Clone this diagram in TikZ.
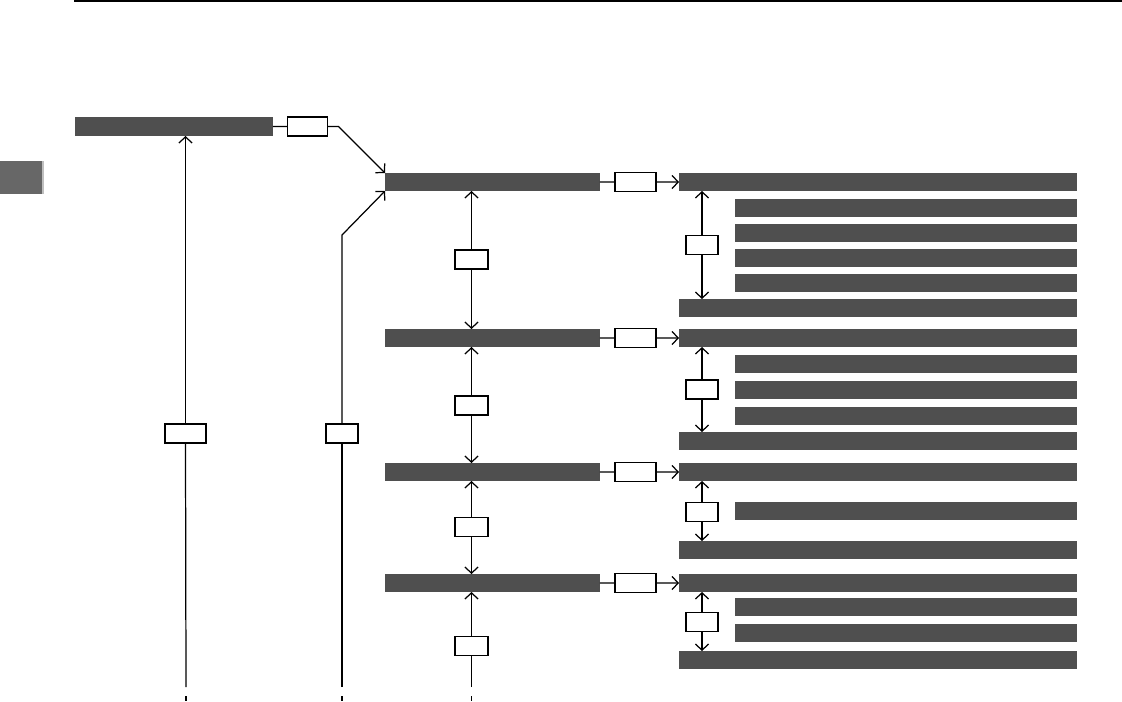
\documentclass[tikz,border=0pt]{standalone}
\usetikzlibrary{arrows.meta,positioning}
\definecolor{barfill}{HTML}{4F4F4F}
\definecolor{tabfill}{HTML}{676767}

\begin{document}
\begin{tikzpicture}[
    x=0.02cm, y=-0.02cm,
    >={Straight Barb[length=3.5pt,width=7.5pt]},
    bar/.style={rectangle, fill=barfill, inner sep=0pt, outer sep=0pt,
                anchor=north west, minimum height=0.36cm},
    mainbar/.style={bar, minimum width=4.3cm},
    stepbar/.style={bar, minimum width=7.96cm},
    subbar/.style={bar, minimum width=6.84cm},
    tag/.style={rectangle, draw, fill=white, line width=0.9pt, inner sep=0pt,
                outer sep=0pt, minimum width=0.64cm, minimum height=0.38cm},
    link/.style={line width=0.7pt},
]
\useasboundingbox (0,0) rectangle (1122,701);

% ── Page furniture ──
\draw[line width=0.9pt] (74,0.8) -- (1122,0.8);
\fill[tabfill] (0,161) rectangle (42,194);
\fill[black!25] (42,161) rectangle (43.5,194);

% ── Top bar and its exit ──
\node[bar, minimum width=3.96cm, minimum height=0.38cm] (A) at (75,117) {};
\node[tag, minimum width=0.8cm] (T) at (307.5,126.5) {};

% ── Rows: main bar, step bar, end bar and their tags ──
\foreach \yb/\ye/\yv/\yc [count=\i] in {173/299/245/259.5, 329/432/389.5/405.5,
                                         463/541/512/527, 574/651/622/646} {
    \node[mainbar] (B\i) at (385,\yb) {};
    \node[stepbar] (R\i) at (679,\yb) {};
    \node[stepbar] (E\i) at (679,\ye) {};
    \node[tag, minimum width=0.82cm] (H\i) at (635.5,\yb+9) {};
    \node[tag] (V\i) at (702,\yv) {};
    \node[tag, minimum width=0.66cm] (C\i) at (471.5,\yc) {};
    \draw[link] (B\i.east) -- (H\i.west);
    \draw[link,->] (H\i.east) -- (R\i.west);
    \draw[link,->] (V\i.north) -- (V\i.north |- R\i.south);
    \draw[link,->] (V\i.south) -- (V\i.south |- E\i.north);
    \draw[link,->] (C\i.north) -- (C\i.north |- B\i.south);
}

% sub bars
\foreach \y [count=\i] in {199,224,249,274} \node[subbar] (S1-\i) at (735,\y) {};
\foreach \y [count=\i] in {355,381,407} \node[subbar] (S2-\i) at (735,\y) {};
\node[subbar] (S3-1) at (735,502) {};
\foreach \y [count=\i] in {598,624} \node[subbar] (S4-\i) at (735,\y) {};

% center column
\foreach \i/\j in {1/2,2/3,3/4}
    \draw[link,->] (C\i.south) -- (C\i.south |- B\j.north);

% ── Left feeds ──
\node[tag, minimum width=0.82cm] (L1) at (185.5,433.5) {};
\node[tag] (L2) at (342,433.5) {};
\coordinate (foot1) at (186,687);
\coordinate (foot2) at (342,687);
\coordinate (foot3) at (471.5,687);
\coordinate (bend) at (342,235);

\draw[link] (A.east) -- (T.west);
\draw[link,->] (T.east) -- ++(11,0) -- (B1.north west);
\draw[link] (foot1) -- (L1.south);
\draw[link,->] (L1.north) -- (L1.north |- A.south);
\draw[link] (foot2) -- (L2.south);
\draw[link,->] (L2.north) -- (bend) -- (B1.south west);
\draw[link] (foot3) -- (C4.south);

% continuation ticks
\foreach \x in {186,342,471.5}
    \draw[link] (\x,696) -- (\x,701);

\end{tikzpicture}
\end{document}
